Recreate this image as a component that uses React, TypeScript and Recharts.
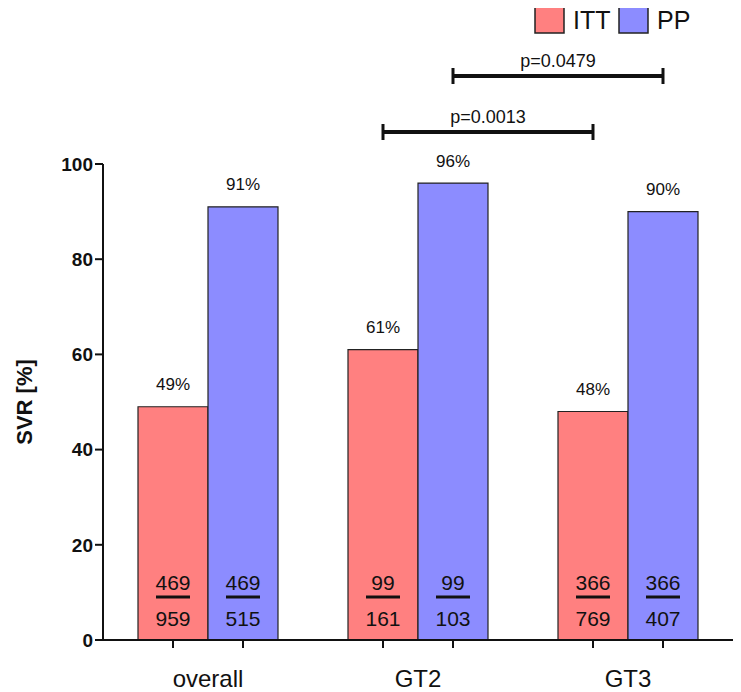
import React from "react";
import { Bar, BarChart, LabelList, XAxis, YAxis } from "recharts";

const categories = ["overall", "GT2", "GT3"];
const ittValues = [49, 61, 48];
const ppValues = [91, 96, 90];
const ittNum = [469, 99, 366];
const ittDen = [959, 161, 769];
const ppNum = [469, 99, 366];
const ppDen = [515, 103, 407];
const yTicks = [0, 20, 40, 60, 80, 100];

// significance brackets between bars of the same series
const brackets = [
  { from: 1, to: 2, series: "pp", label: "p=0.0479", y: 76 },
  { from: 1, to: 2, series: "itt", label: "p=0.0013", y: 132 },
];

const data = categories.map((name, i) => ({
  name,
  itt: ittValues[i],
  pp: ppValues[i],
  ittN: ittNum[i],
  ittD: ittDen[i],
  ppN: ppNum[i],
  ppD: ppDen[i],
}));

// page is 741x692 with an 8px body margin
const PAGE_W = 741;
const PAGE_H = 692;
const OFF = 8;
const W = PAGE_W - OFF;
const H = PAGE_H - OFF;
const Y_AXIS_W = 95;
const X_AXIS_H = 52;
const MARGIN = { top: 156, right: 8, bottom: 0, left: 0 };
const AXIS_Y = H - MARGIN.bottom - X_AXIS_H;
const BAR = 70;
const FONT = "Arial, 'Liberation Sans', sans-serif";
const INK = "#111";
const ITT_COLOR = "#FF8080";
const PP_COLOR = "#8C8CFF";

const PctLabel = (props: any) => {
  const { x, y, width, value } = props;
  return (
    <text
      x={x + width / 2}
      y={y - 22}
      textAnchor="middle"
      dominantBaseline="central"
      fontSize={17}
      fontFamily={FONT}
      fill={INK}
    >
      {value}%
    </text>
  );
};

const NumLabel = (props: any) => {
  const { x, y, width, height, value } = props;
  const cx = x + width / 2;
  const bottom = y + height;
  return (
    <g>
      <text
        x={cx}
        y={bottom - 58}
        textAnchor="middle"
        dominantBaseline="central"
        fontSize={21}
        fontFamily={FONT}
        fill={INK}
      >
        {value}
      </text>
      <line x1={cx - 17} x2={cx + 17} y1={bottom - 43} y2={bottom - 43} stroke={INK} strokeWidth={3} />
    </g>
  );
};

const DenLabel = (props: any) => {
  const { x, y, width, height, value } = props;
  return (
    <text
      x={x + width / 2}
      y={y + height - 22}
      textAnchor="middle"
      dominantBaseline="central"
      fontSize={21}
      fontFamily={FONT}
      fill={INK}
    >
      {value}
    </text>
  );
};

const XTick = (props: any) => {
  const { x, payload } = props;
  return (
    <g>
      <line x1={x - BAR / 2} x2={x - BAR / 2} y1={AXIS_Y} y2={AXIS_Y + 8} stroke={INK} strokeWidth={2} />
      <line x1={x + BAR / 2} x2={x + BAR / 2} y1={AXIS_Y} y2={AXIS_Y + 8} stroke={INK} strokeWidth={2} />
      <text
        x={x}
        y={AXIS_Y + 38}
        textAnchor="middle"
        dominantBaseline="central"
        fontSize={24}
        fontFamily={FONT}
        fill={INK}
      >
        {payload.value}
      </text>
    </g>
  );
};

const YLabel = (props: any) => {
  const { viewBox } = props;
  const cy = viewBox.y + viewBox.height / 2;
  const cx = 16;
  return (
    <text
      x={cx}
      y={cy}
      transform={`rotate(-90, ${cx}, ${cy})`}
      textAnchor="middle"
      dominantBaseline="central"
      fontSize={22}
      fontWeight="bold"
      fontFamily={FONT}
      fill={INK}
    >
      SVR [%]
    </text>
  );
};

// legend and p-value brackets, drawn in page coordinates
function Overlay() {
  const plotLeft = OFF + MARGIN.left + Y_AXIS_W;
  const band = (OFF + W - MARGIN.right - plotLeft) / categories.length;
  const barCenter = (i: number, series: string) =>
    plotLeft + band * (i + 0.5) + (series === "itt" ? -BAR / 2 : BAR / 2);

  return (
    <svg
      width={PAGE_W}
      height={PAGE_H}
      style={{ position: "absolute", left: -OFF, top: -OFF, pointerEvents: "none" }}
    >
      <rect x={535} y={5} width={29} height={28} fill={ITT_COLOR} stroke="#222" strokeWidth={1.5} />
      <text x={573} y={20} dominantBaseline="central" fontSize={25} fontFamily={FONT} fill={INK}>
        ITT
      </text>
      <rect x={619} y={5} width={29} height={28} fill={PP_COLOR} stroke="#222" strokeWidth={1.5} />
      <text x={657} y={20} dominantBaseline="central" fontSize={25} fontFamily={FONT} fill={INK}>
        PP
      </text>

      {brackets.map((b) => {
        const x1 = barCenter(b.from, b.series);
        const x2 = barCenter(b.to, b.series);
        return (
          <g key={b.label}>
            <line x1={x1} x2={x2} y1={b.y} y2={b.y} stroke={INK} strokeWidth={4} />
            <line x1={x1} x2={x1} y1={b.y - 8} y2={b.y + 8} stroke={INK} strokeWidth={3} />
            <line x1={x2} x2={x2} y1={b.y - 8} y2={b.y + 8} stroke={INK} strokeWidth={3} />
            <text
              x={(x1 + x2) / 2}
              y={b.y - 15}
              textAnchor="middle"
              dominantBaseline="central"
              fontSize={18}
              fontFamily={FONT}
              fill={INK}
            >
              {b.label}
            </text>
          </g>
        );
      })}
    </svg>
  );
}

export default function App() {
  return (
    <div style={{ position: "relative", width: W, height: H }}>
      <BarChart width={W} height={H} data={data} margin={MARGIN} barGap={0} barSize={BAR}>
        <XAxis
          dataKey="name"
          height={X_AXIS_H}
          axisLine={{ stroke: INK, strokeWidth: 2 }}
          tickLine={false}
          tickSize={0}
          tickMargin={0}
          tick={<XTick />}
          interval={0}
        />
        <YAxis
          width={Y_AXIS_W}
          domain={[0, 100]}
          ticks={yTicks}
          interval={0}
          axisLine={{ stroke: INK, strokeWidth: 2 }}
          tickLine={{ stroke: INK, strokeWidth: 2 }}
          tickSize={8}
          tickMargin={2}
          tick={{ fontSize: 19, fontWeight: "bold", fill: INK, fontFamily: FONT }}
          label={<YLabel />}
        />
        <Bar dataKey="itt" fill={ITT_COLOR} stroke="#222" strokeWidth={1.2} isAnimationActive={false}>
          <LabelList dataKey="itt" content={<PctLabel />} />
          <LabelList dataKey="ittN" content={<NumLabel />} />
          <LabelList dataKey="ittD" content={<DenLabel />} />
        </Bar>
        <Bar dataKey="pp" fill={PP_COLOR} stroke="#222" strokeWidth={1.2} isAnimationActive={false}>
          <LabelList dataKey="pp" content={<PctLabel />} />
          <LabelList dataKey="ppN" content={<NumLabel />} />
          <LabelList dataKey="ppD" content={<DenLabel />} />
        </Bar>
      </BarChart>
      <Overlay />
    </div>
  );
}
